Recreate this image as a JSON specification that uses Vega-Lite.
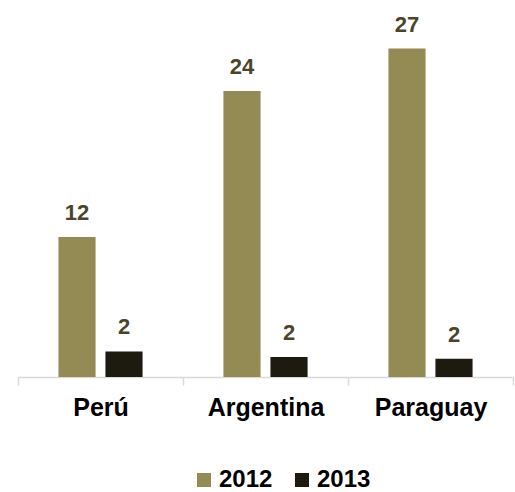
{
  "$schema": "https://vega.github.io/schema/vega-lite/v6.json",
  "width": 495,
  "height": 365,
  "autosize": "none",
  "padding": {"left": 18, "top": 12, "right": 2, "bottom": 115},
  "background": "white",
  "config": {
    "view": {"stroke": null},
    "font": "Liberation Sans"
  },
  "data": {
    "values": [
      {"country": "Perú", "year": "2012", "value": 11.5},
      {"country": "Perú", "year": "2013", "value": 2.1},
      {"country": "Argentina", "year": "2012", "value": 23.5},
      {"country": "Argentina", "year": "2013", "value": 1.65},
      {"country": "Paraguay", "year": "2012", "value": 27},
      {"country": "Paraguay", "year": "2013", "value": 1.5}
    ]
  },
  "encoding": {
    "x": {
      "field": "country",
      "type": "nominal",
      "sort": ["Perú", "Argentina", "Paraguay"],
      "scale": {"paddingInner": 0, "paddingOuter": 0},
      "axis": {
        "title": null,
        "labelAngle": 0,
        "labelFont": "Liberation Sans",
        "labelFontWeight": "bold",
        "labelFontSize": 25,
        "labelColor": "#000000",
        "labelPadding": 10,
        "tickBand": "extent",
        "tickSize": 8,
        "tickColor": "#d9d9d9",
        "domainColor": "#d9d9d9",
        "tickWidth": 1.5,
        "domainWidth": 1.5
      }
    },
    "xOffset": {
      "field": "year",
      "type": "nominal",
      "scale": {"paddingInner": 0.21, "paddingOuter": 0.86}
    },
    "y": {
      "field": "value",
      "type": "quantitative",
      "scale": {"domain": [0, 30], "nice": false},
      "axis": null
    }
  },
  "layer": [
    {
      "mark": {"type": "bar"},
      "encoding": {
        "color": {
          "field": "year",
          "type": "nominal",
          "scale": {"domain": ["2012", "2013"], "range": ["#948a54", "#1d1b10"]},
          "legend": {
            "title": null,
            "orient": "none",
            "direction": "horizontal",
            "legendX": 174,
            "legendY": 456,
            "symbolType": "square",
            "symbolSize": 196,
            "symbolStrokeWidth": 0,
            "labelFont": "Liberation Sans",
            "labelFontWeight": "bold",
            "labelFontSize": 24,
            "labelColor": "#000000",
            "columnPadding": 17,
            "labelOffset": 3
          }
        }
      }
    },
    {
      "mark": {
        "type": "text",
        "baseline": "alphabetic",
        "dy": -17,
        "font": "Liberation Sans",
        "fontWeight": "bold",
        "fontSize": 22,
        "color": "#4a452a"
      },
      "encoding": {
        "text": {"field": "value", "type": "quantitative", "format": ".0f"}
      }
    }
  ]
}
